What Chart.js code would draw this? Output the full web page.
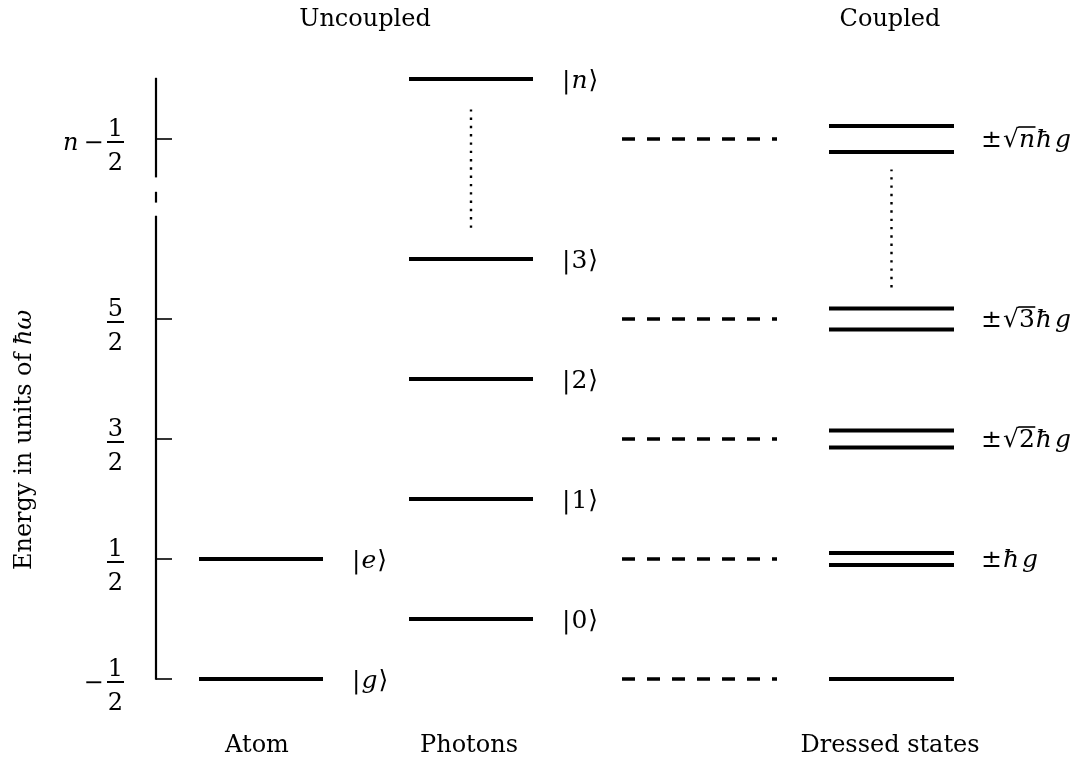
<!DOCTYPE html>
<html>
<head>
<meta charset="utf-8">
<title>Dressed states energy levels</title>
<script src="https://cdn.jsdelivr.net/npm/chart.js@4/dist/chart.umd.min.js"></script>
<style>
  html, body { margin: 0; padding: 0; background: #fff; }
  #wrap { width: 1086px; height: 760px; }
</style>
</head>
<body>
<div id="wrap"><canvas id="levels" width="1086" height="760"></canvas></div>
<script>
// ---- energies in units of ħω ----
const atomEnergies   = [-0.5, 0.5];
const atomKets       = ['g', 'e'];
const photonEnergies = [0, 1, 2, 3, 4.5];
const photonKets     = ['0', '1', '2', '3', 'n'];
const bareEnergies   = [-0.5, 0.5, 1.5, 2.5, 4];      // uncoupled manifolds (dashed)
const dressedHalfSplit = [0, 0.049, 0.071, 0.088, 0.108]; // ±√n ħg, in ħω
const dressedRadicands = ['', '', '2', '3', 'n'];
const tickValues     = [-0.5, 0.5, 1.5, 2.5, 4];
const tickNumerators   = ['1', '1', '3', '5', '1'];
const tickDenominators = ['2', '2', '2', '2', '2'];
const tickPrefixes     = ['−', '', '', '', 'n'];
const columnTitles   = ['Uncoupled', 'Coupled'];
const columnNames    = ['Atom', 'Photons', 'Dressed states'];
const axisTitle      = 'Energy in units of ';
const axisUnit       = 'ħω';

// ---- horizontal layout of the columns (x-scale units) ----
const atomCol    = { from: 0.43, to: 1.67 };
const photonCol  = { from: 2.53, to: 3.77 };
const bareCol    = { from: 4.66, to: 6.21 };
const dressedCol = { from: 6.73, to: 7.98 };
const titleX = [2.09, 7.34];
const nameX  = [1.01, 3.13, 7.34];
const photonDots  = { x: 3.15, from: 3.26, to: 4.245 };
const dressedDots = { x: 7.355, from: 2.763, to: 3.745 };
const axisSegments = [[-0.5, 3.36], [3.47, 3.56], [3.68, 4.51]];

const ink = '#000';
const FONT = '"DejaVu Serif", "Liberation Serif", serif';

function hline(col, e, extra) {
  return Object.assign({
    data: [{ x: col.from, y: e }, { x: col.to, y: e }],
    borderColor: ink, borderWidth: 4, borderCapStyle: 'butt',
    pointRadius: 0, pointHoverRadius: 0, showLine: true, clip: false, fill: false
  }, extra || {});
}
function vdots(d) {
  return {
    data: [{ x: d.x, y: d.from }, { x: d.x, y: d.to }],
    borderColor: ink, borderWidth: 2.4, borderDash: [2.4, 5.9], borderCapStyle: 'butt',
    pointRadius: 0, pointHoverRadius: 0, showLine: true, clip: false, fill: false
  };
}

const datasets = [];
atomEnergies.forEach(e => datasets.push(hline(atomCol, e)));
photonEnergies.forEach(e => datasets.push(hline(photonCol, e)));
bareEnergies.forEach(e => datasets.push(hline(bareCol, e, { borderWidth: 3.4, borderDash: [13, 12] })));
bareEnergies.forEach((e, i) => {
  const s = dressedHalfSplit[i];
  if (s === 0) { datasets.push(hline(dressedCol, e)); }
  else { datasets.push(hline(dressedCol, e + s)); datasets.push(hline(dressedCol, e - s)); }
});
datasets.push(vdots(photonDots));
datasets.push(vdots(dressedDots));

// ---- rich text: runs of upright / italic glyphs, optional overline (radicand) ----
function fontFor(part, size) { return (part.it ? 'italic ' : '') + (part.size || size) + 'px ' + FONT; }
function richWidth(ctx, parts, size) {
  let w = 0;
  parts.forEach(p => { ctx.font = fontFor(p, size); w += ctx.measureText(p.t).width + (p.gap || 0); });
  return w;
}
function drawRich(ctx, parts, x, baseline, size, align) {
  let cx = x;
  if (align === 'right') cx = x - richWidth(ctx, parts, size);
  if (align === 'center') cx = x - richWidth(ctx, parts, size) / 2;
  ctx.textAlign = 'left';
  parts.forEach(p => {
    ctx.font = fontFor(p, size);
    const w = ctx.measureText(p.t).width;
    ctx.fillText(p.t, cx, baseline);
    if (p.over) {
      ctx.save();
      ctx.lineWidth = 1.6;
      ctx.beginPath();
      ctx.moveTo(cx - 0.5, baseline - size * 0.80);
      ctx.lineTo(cx + w + 0.5, baseline - size * 0.80);
      ctx.stroke();
      ctx.restore();
    }
    cx += w + (p.gap || 0);
  });
}
function ket(sym) {
  const italic = /[a-z]/.test(sym);
  return [{ t: '|', gap: 1 }, { t: sym, it: italic, gap: 1 }, { t: '⟩' }];
}
function dressedLabel(rad) {
  const parts = [{ t: '±', gap: 1 }];
  if (rad) {
    parts.push({ t: '√' });
    parts.push({ t: rad, it: /[a-z]/.test(rad), over: true, gap: 1 });
  }
  parts.push({ t: 'ħ', it: true, gap: 3 });
  parts.push({ t: 'g', it: true });
  return parts;
}

const annotate = {
  id: 'annotate',
  afterDatasetsDraw(chart) {
    const ctx = chart.ctx;
    const xs = chart.scales.x, ys = chart.scales.y;
    const area = chart.chartArea;
    const axX = area.left;
    ctx.save();
    ctx.fillStyle = ink;
    ctx.strokeStyle = ink;
    ctx.textBaseline = 'alphabetic';

    // energy axis with a break
    ctx.lineWidth = 2.2;
    axisSegments.forEach(([a, b]) => {
      ctx.beginPath();
      ctx.moveTo(axX, ys.getPixelForValue(a) + (a === -0.5 ? 0.8 : 0));
      ctx.lineTo(axX, ys.getPixelForValue(b));
      ctx.stroke();
    });

    // ticks and fraction labels
    const fx = axX - 40.5;
    tickValues.forEach((v, i) => {
      const y = ys.getPixelForValue(v);
      ctx.lineWidth = 1.6;
      ctx.beginPath();
      ctx.moveTo(axX, y);
      ctx.lineTo(axX + 16, y);
      ctx.stroke();
      const barY = y + 3;
      ctx.lineWidth = 2;
      ctx.beginPath();
      ctx.moveTo(fx - 8.5, barY);
      ctx.lineTo(fx + 8.5, barY);
      ctx.stroke();
      ctx.font = '24px ' + FONT;
      ctx.textAlign = 'center';
      ctx.fillText(tickNumerators[i], fx, barY - 6);
      ctx.fillText(tickDenominators[i], fx, barY + 28);
      const pre = tickPrefixes[i];
      if (pre === 'n') drawRich(ctx, [{ t: 'n', it: true, gap: 5 }, { t: '−' }], fx - 12, barY + 8, 24, 'right');
      else if (pre) drawRich(ctx, [{ t: pre }], fx - 12, barY + 8, 24, 'right');
    });

    // axis title
    ctx.save();
    ctx.translate(31, 440);
    ctx.rotate(-Math.PI / 2);
    drawRich(ctx, [{ t: axisTitle }, { t: axisUnit, it: true }], 0, 0, 24, 'center');
    ctx.restore();

    // state labels
    atomEnergies.forEach((e, i) =>
      drawRich(ctx, ket(atomKets[i]), xs.getPixelForValue(atomCol.to + 0.29), ys.getPixelForValue(e) + 9, 25));
    photonEnergies.forEach((e, i) =>
      drawRich(ctx, ket(photonKets[i]), xs.getPixelForValue(photonCol.to + 0.29), ys.getPixelForValue(e) + 9, 25));
    bareEnergies.forEach((e, i) => {
      if (dressedHalfSplit[i] === 0) return;
      drawRich(ctx, dressedLabel(dressedRadicands[i]), xs.getPixelForValue(dressedCol.to + 0.27), ys.getPixelForValue(e) + 8, 25);
    });

    // column headings and names
    ctx.font = '24px ' + FONT;
    ctx.textAlign = 'center';
    columnTitles.forEach((t, i) => ctx.fillText(t, xs.getPixelForValue(titleX[i]), area.top - 53));
    columnNames.forEach((t, i) => ctx.fillText(t, xs.getPixelForValue(nameX[i]), area.bottom + 73));
    ctx.restore();
  }
};

new Chart(document.getElementById('levels'), {
  type: 'scatter',
  data: { datasets },
  options: {
    responsive: false,
    animation: false,
    events: [],
    layout: { padding: { left: 156, right: 30, top: 79, bottom: 81 } },
    plugins: { legend: { display: false }, tooltip: { enabled: false } },
    scales: {
      x: { type: 'linear', min: 0, max: 9, display: false },
      y: { type: 'linear', min: -0.5, max: 4.5, display: false }
    }
  },
  plugins: [annotate]
});
</script>
</body>
</html>
